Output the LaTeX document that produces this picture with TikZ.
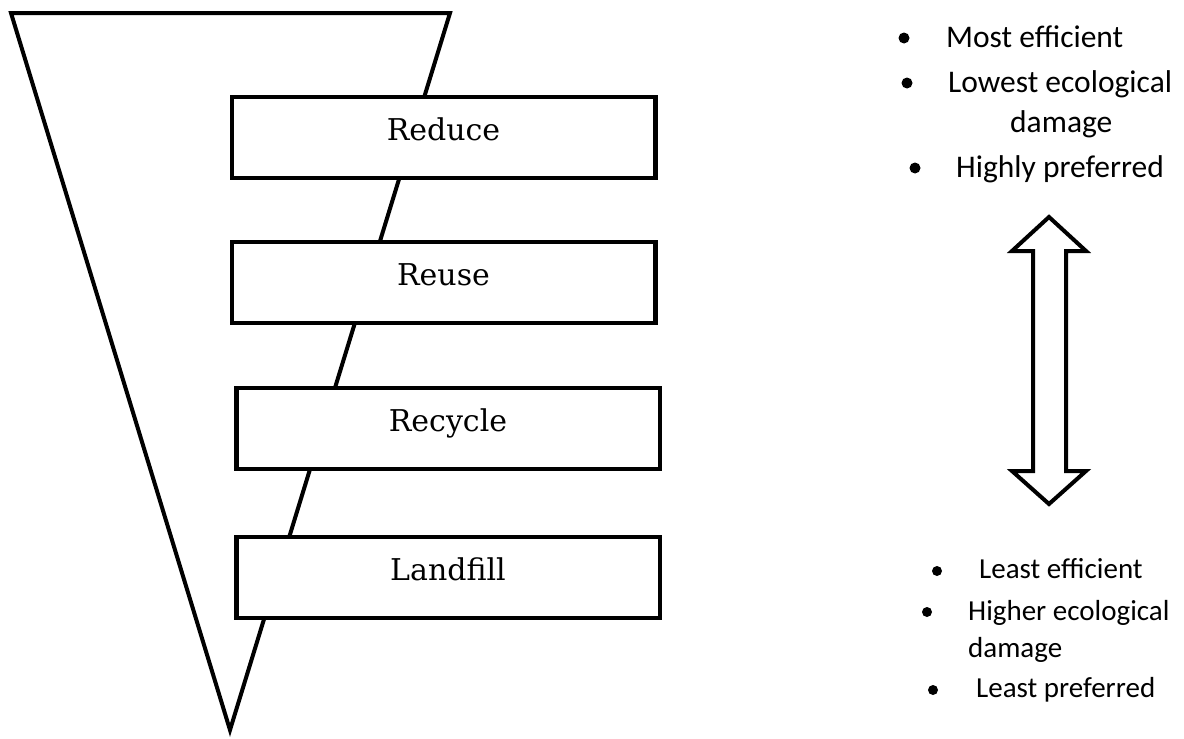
\documentclass[tikz,border=0pt]{standalone}
\usepackage{fontspec}
\newfontfamily\boxfont{DejaVu Serif}
\newfontfamily\notefont{Carlito}

\begin{document}
\begin{tikzpicture}[x=1pt, y=-1pt,
        stage/.style={draw, fill=white, line width=4.5pt, inner sep=0pt,
            minimum width=423.5pt, minimum height=81pt,
            font=\boxfont\fontsize{30}{36}\selectfont, text height=22pt, text depth=16pt},
        dot/.style={circle, fill, inner sep=0pt, minimum size=11pt},
        best/.style={anchor=base west, inner sep=0pt, font=\notefont\fontsize{31.5}{38}\selectfont},
        worst/.style={anchor=base west, inner sep=0pt, font=\notefont\fontsize{29}{35}\selectfont}]
        \useasboundingbox (0,0) rectangle (1184,739);
        % Funnel:
        % One closed path, the boxes are filled white so they cover it:
        \draw [line width=4pt] (11,13) -- (450,13) -- (230,730) -- cycle;

        % Stages:
        \foreach \name/\txt/\cx/\cy in {reduce/Reduce/443.5/137.5, reuse/Reuse/443.5/282.5,
            recycle/Recycle/448/428.5, landfill/Landfill/448/577.5}{%
            \node [stage] (\name) at (\cx,\cy) {\txt};
        }

        % Double arrow:
        \draw [line width=4pt] (1049,217) -- (1086,251) -- (1066,251) -- (1066,471) -- (1086,471)
            -- (1049,504) -- (1012,471) -- (1033,471) -- (1033,251) -- (1012,251) -- cycle;

        % Notes:
        \foreach \n/\x/\y/\txt in {1/946/47/Most efficient, 2/948/92/Lowest ecological,
            3/1010/132/damage, 4/956/177/Highly preferred}{%
            \node [best] (best\n) at (\x,\y) {\txt};
        }
        \foreach \n/\x/\y in {1/904/38, 2/907/83, 4/915/168}{%
            \node [dot] (bestdot\n) at (\x,\y) {};
        }
        \foreach \n/\x/\y/\txt in {1/979/578/Least efficient, 2/968/620/Higher ecological,
            3/968/657/damage, 4/976/697/Least preferred}{%
            \node [worst] (worst\n) at (\x,\y) {\txt};
        }
        \foreach \n/\x/\y in {1/937/571, 2/927/612, 4/933/690}{%
            \node [dot, minimum size=10pt] (worstdot\n) at (\x,\y) {};
        }
\end{tikzpicture}
\end{document}
